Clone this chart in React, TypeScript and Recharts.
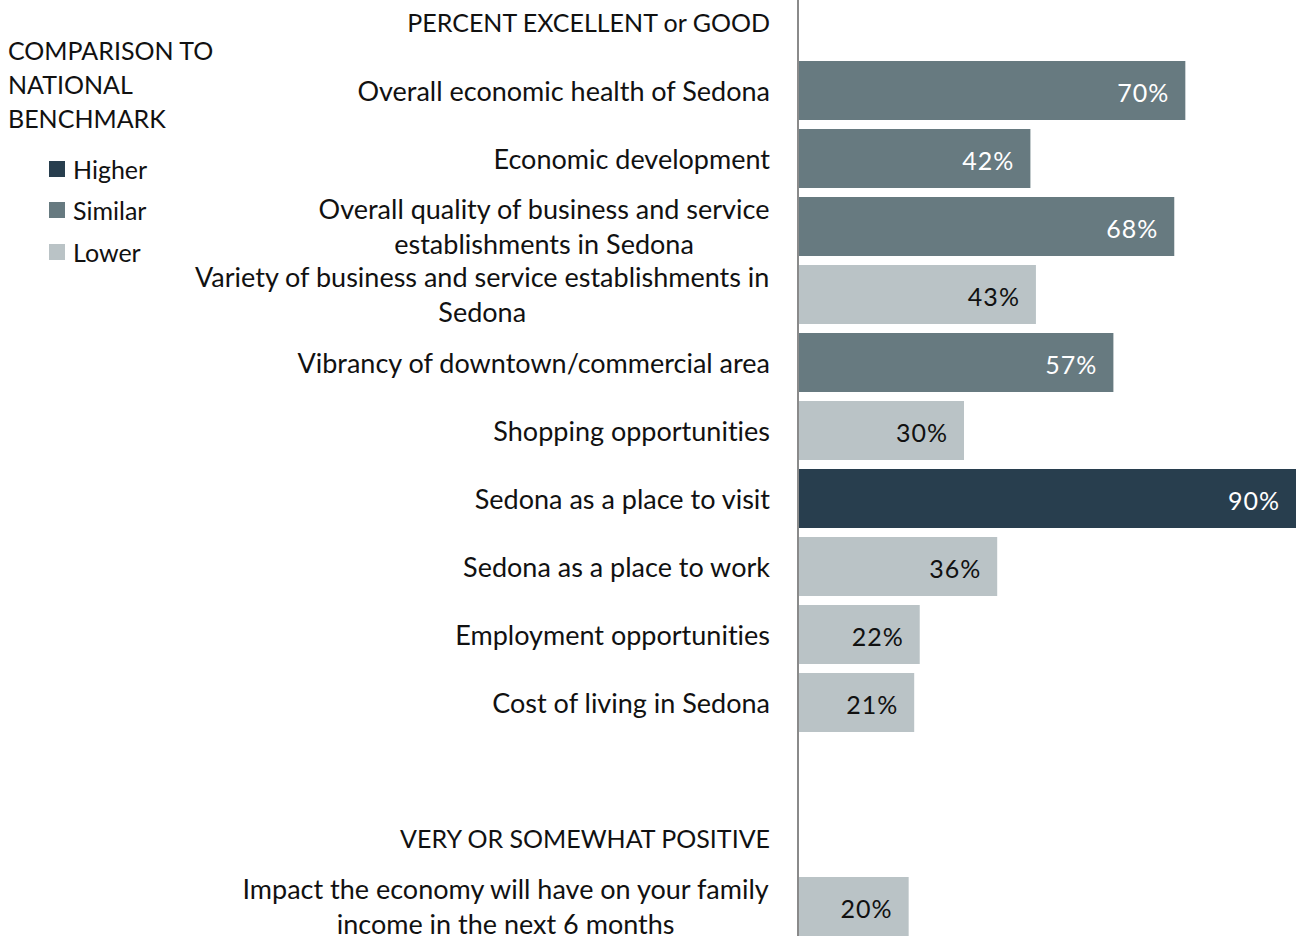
import React from "react";
import { BarChart, Bar, XAxis, YAxis, Cell, LabelList } from "recharts";

const FONT = "Lato, 'Open Sans', sans-serif";
const FONT_SIZE = 27;
const HEADER_SIZE = 25;
const VALUE_SIZE = 25;
const TEXT = "#111111";

const COLORS: Record<string, string> = {
  Higher: "#283e4e",
  Similar: "#677a80",
  Lower: "#bac3c6",
};

// rows top to bottom; "\n" marks where the original label wraps
const CATEGORIES = [
  "PERCENT EXCELLENT or GOOD",
  "Overall economic health of Sedona",
  "Economic development",
  "Overall quality of business and service\nestablishments in Sedona",
  "Variety of business and service establishments in\nSedona",
  "Vibrancy of downtown/commercial area",
  "Shopping opportunities",
  "Sedona as a place to visit",
  "Sedona as a place to work",
  "Employment opportunities",
  "Cost of living in Sedona",
  " ",
  "VERY OR SOMEWHAT POSITIVE",
  "Impact the economy will have on your family\nincome in the next 6 months",
];
const HEADERS = ["PERCENT EXCELLENT or GOOD", "VERY OR SOMEWHAT POSITIVE"];
const VALUES: (number | null)[] = [null, 70, 42, 68, 43, 57, 30, 90, 36, 22, 21, null, null, 20];
const BENCHMARK: (string | null)[] = [
  null, "Similar", "Similar", "Similar", "Lower", "Similar", "Lower",
  "Higher", "Lower", "Lower", "Lower", null, null, "Lower",
];
const LEGEND_TITLE = ["COMPARISON TO", "NATIONAL", "BENCHMARK"];
const LEGEND_ITEMS = ["Higher", "Similar", "Lower"];

const data = CATEGORIES.map((name, i) => ({ name, value: VALUES[i], bench: BENCHMARK[i] }));

let ctx: CanvasRenderingContext2D | null = null;
function textWidth(s: string) {
  if (!ctx) ctx = document.createElement("canvas").getContext("2d");
  if (!ctx) return s.length * FONT_SIZE * 0.5;
  ctx.font = `${FONT_SIZE}px ${FONT}`;
  return ctx.measureText(s).width;
}

const LINE_H = 35;
const textStyle = { fontVariantLigatures: "none" } as React.CSSProperties;

function CategoryTick(props: any) {
  const { x, y, payload } = props;
  const label = String(payload.value);
  const lines = label.split("\n");
  const size = HEADERS.includes(label) ? HEADER_SIZE : FONT_SIZE;
  if (lines.length === 1) {
    return (
      <text x={x} y={y} textAnchor="end" dominantBaseline="central" fontSize={size} fontFamily={FONT} fill={TEXT} style={textStyle}>
        {lines[0]}
      </text>
    );
  }
  const maxW = Math.max(...lines.map(textWidth));
  const cx = x - maxW / 2;
  const y0 = y - ((lines.length - 1) * LINE_H) / 2;
  return (
    <text textAnchor="middle" fontSize={size} fontFamily={FONT} fill={TEXT} style={textStyle}>
      {lines.map((l, i) => (
        <tspan key={i} x={cx} y={y0 + i * LINE_H} dominantBaseline="central">
          {l}
        </tspan>
      ))}
    </text>
  );
}

function ValueLabel(props: any) {
  const { x, y, width, height, value } = props;
  if (value == null) return null;
  const [num, bench] = String(value).split("|");
  return (
    <text
      x={x + width - 16}
      y={y + height / 2 + 1}
      textAnchor="end"
      dominantBaseline="central"
      fontSize={VALUE_SIZE}
      letterSpacing={1}
      fontFamily={FONT}
      fill={bench === "Lower" ? TEXT : "#ffffff"}
    >
      {num}%
    </text>
  );
}

function LegendBox() {
  return (
    <div style={{ position: "absolute", left: 8, top: 33, fontFamily: FONT, fontSize: 25, color: TEXT, lineHeight: "34px" }}>
      {LEGEND_TITLE.map((t) => (
        <div key={t}>{t}</div>
      ))}
      <div style={{ marginTop: 13, marginLeft: 41 }}>
        {LEGEND_ITEMS.map((k) => (
          <div key={k} style={{ display: "flex", alignItems: "center", height: 41.5 }}>
            <span style={{ width: 16, height: 16, background: COLORS[k], marginRight: 8, display: "inline-block" }} />
            {k}
          </div>
        ))}
      </div>
    </div>
  );
}

export default function App() {
  return (
    <div style={{ position: "fixed", left: 0, top: 0, width: 1296, height: 936, overflow: "hidden", background: "#fff" }}>
      <div style={{ position: "absolute", left: 0, top: -12 }}>
        <BarChart
          width={1296}
          height={952}
          data={data}
          layout="vertical"
          margin={{ top: 0, right: 0, bottom: 0, left: 0 }}
          barSize={59}
        >
          <XAxis type="number" domain={[0, 90]} hide />
          <YAxis
            type="category"
            dataKey="name"
            width={798}
            interval={0}
            tickLine={false}
            tickSize={0}
            tickMargin={28}
            axisLine={{ stroke: "#8a8a8a", strokeWidth: 2 }}
            tick={<CategoryTick />}
          />
          <Bar dataKey="value" isAnimationActive={false}>
            {data.map((d, i) => (
              <Cell key={i} fill={d.bench ? COLORS[d.bench] : "transparent"} />
            ))}
            <LabelList
              dataKey={(d: any) => (d.value == null ? null : `${d.value}|${d.bench}`)}
              content={<ValueLabel />}
            />
          </Bar>
        </BarChart>
      </div>
      <LegendBox />
    </div>
  );
}
